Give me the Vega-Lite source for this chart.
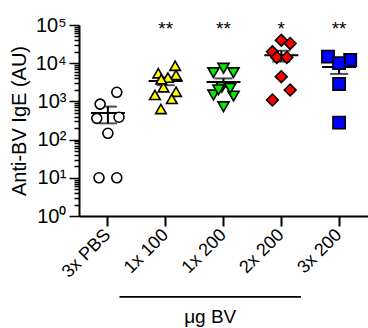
{
  "$schema": "https://vega.github.io/schema/vega-lite/v6.json",
  "width": 289,
  "height": 191,
  "autosize": {"type": "none"},
  "padding": {"left": 79, "top": 25, "right": 0, "bottom": 112},
  "config": {
    "view": {"stroke": null},
    "font": "Liberation Sans",
    "axis": {"labelFont": "Liberation Sans", "titleFont": "Liberation Sans", "labelColor": "black", "titleColor": "black", "domainColor": "black", "tickColor": "black"}
  },
  "datasets": {
    "pts": [
      {"group": "3x PBS", "value": 1730, "spread": 0.8},
      {"group": "3x PBS", "value": 850, "spread": -0.7},
      {"group": "3x PBS", "value": 360, "spread": -1.0},
      {"group": "3x PBS", "value": 385, "spread": 1.0},
      {"group": "3x PBS", "value": 146, "spread": 0},
      {"group": "3x PBS", "value": 10, "spread": -0.8},
      {"group": "3x PBS", "value": 10, "spread": 0.8},
      {"group": "1x 100", "value": 5450, "spread": -0.67},
      {"group": "1x 100", "value": 8550, "spread": 0.85},
      {"group": "1x 100", "value": 4900, "spread": 0.93},
      {"group": "1x 100", "value": 2340, "spread": -0.2},
      {"group": "1x 100", "value": 1475, "spread": -0.97},
      {"group": "1x 100", "value": 1790, "spread": 0.93},
      {"group": "1x 100", "value": 1160, "spread": 0.55},
      {"group": "1x 100", "value": 630, "spread": -0.43},
      {"group": "1x 100", "value": 4200, "spread": 0.2},
      {"group": "1x 100", "value": 3800, "spread": -0.4},
      {"group": "1x 200", "value": 5650, "spread": -0.9},
      {"group": "1x 200", "value": 7400, "spread": 0},
      {"group": "1x 200", "value": 5650, "spread": 0.9},
      {"group": "1x 200", "value": 2340, "spread": -0.15},
      {"group": "1x 200", "value": 1475, "spread": -0.9},
      {"group": "1x 200", "value": 1380, "spread": 0.9},
      {"group": "1x 200", "value": 725, "spread": 0},
      {"group": "1x 200", "value": 2000, "spread": -0.45},
      {"group": "1x 200", "value": 2200, "spread": 0.6},
      {"group": "2x 200", "value": 40000, "spread": 0},
      {"group": "2x 200", "value": 33000, "spread": 0.8},
      {"group": "2x 200", "value": 19900, "spread": -0.8},
      {"group": "2x 200", "value": 14200, "spread": -0.4},
      {"group": "2x 200", "value": 14200, "spread": 0.5},
      {"group": "2x 200", "value": 4450, "spread": 0},
      {"group": "2x 200", "value": 1990, "spread": 0.8},
      {"group": "2x 200", "value": 1090, "spread": -0.8},
      {"group": "3x 200", "value": 14800, "spread": -1.0},
      {"group": "3x 200", "value": 12100, "spread": 1.0},
      {"group": "3x 200", "value": 10000, "spread": 0},
      {"group": "3x 200", "value": 2860, "spread": 0},
      {"group": "3x 200", "value": 277, "spread": 0}
    ],
    "stars": [
      {"group": "1x 100", "sig": "**"},
      {"group": "1x 200", "sig": "**"},
      {"group": "2x 200", "sig": "*"},
      {"group": "3x 200", "sig": "**"}
    ],
    "bracket": [
      {"from": "3x PBS", "to": "2x 200", "label": "μg BV", "mid": "1x 200"}
    ]
  },
  "layer": [
    {
      "data": {"name": "pts"},
      "mark": {"type": "errorbar", "extent": "stderr", "color": "black", "thickness": 2, "ticks": {"size": 18, "thickness": 2, "color": "black"}},
      "encoding": {
        "x": {"field": "group", "type": "nominal",
          "scale": {"domain": ["3x PBS", "1x 100", "1x 200", "2x 200", "3x 200"], "paddingInner": 0, "paddingOuter": 0},
          "axis": {"title": null, "labelAngle": -45, "labelAlign": "right", "labelBaseline": "middle", "labelFontSize": 18, "labelPadding": 6, "tickSize": 10, "tickWidth": 2, "domainWidth": 2, "labelColor": "black"}},
        "y": {"field": "value", "type": "quantitative",
          "scale": {"type": "log", "domain": [1, 100000], "nice": false},
          "axis": {
            "title": "Anti-BV IgE (AU)", "titleFontSize": 20, "titleFontWeight": "normal", "titlePadding": 6,
            "values": [1,2,3,4,5,6,7,8,9,10,20,30,40,50,60,70,80,90,100,200,300,400,500,600,700,800,900,1000,2000,3000,4000,5000,6000,7000,8000,9000,10000,20000,30000,40000,50000,60000,70000,80000,90000,100000],
            "labelExpr": "abs(log(datum.value)/LN10 - round(log(datum.value)/LN10)) < 1e-6 ? '10' + ['⁰','¹','²','³','⁴','⁵'][round(log(datum.value)/LN10)] : ''",
            "labelFontSize": 20, "labelOverlap": false, "labelFlush": false, "labelPadding": 3,
            "tickSize": {"condition": {"test": "abs(log(datum.value)/LN10 - round(log(datum.value)/LN10)) < 1e-6", "value": 10}, "value": 5},
            "tickWidth": 1.5, "domainWidth": 2, "grid": false
          }}
      }
    },
    {
      "data": {"name": "pts"},
      "mark": {"type": "tick", "color": "black", "thickness": 2, "size": 34},
      "encoding": {
        "x": {"field": "group", "type": "nominal"},
        "y": {"aggregate": "mean", "field": "value", "type": "quantitative"}
      }
    },
    {
      "data": {"name": "pts"},
      "mark": {"type": "point", "filled": false, "opacity": 1, "stroke": "black", "strokeWidth": 1.6},
      "encoding": {
        "x": {"field": "group", "type": "nominal"},
        "xOffset": {"field": "spread", "type": "quantitative", "scale": {"domain": [-2.6, 2.6]}},
        "y": {"field": "value", "type": "quantitative"},
        "shape": {"field": "group", "type": "nominal", "legend": null,
          "scale": {"domain": ["3x PBS", "1x 100", "1x 200", "2x 200", "3x 200"], "range": ["circle", "triangle-up", "triangle-down", "diamond", "square"]}},
        "fill": {"field": "group", "type": "nominal", "legend": null,
          "scale": {"domain": ["3x PBS", "1x 100", "1x 200", "2x 200", "3x 200"], "range": ["#ffffff", "#ffff00", "#00ee00", "#ff0000", "#0000ff"]}},
        "size": {"field": "group", "type": "nominal", "legend": null,
          "scale": {"domain": ["3x PBS", "1x 100", "1x 200", "2x 200", "3x 200"], "range": [100, 150, 150, 135, 160]}}
      }
    },
    {
      "data": {"name": "stars"},
      "mark": {"type": "text", "fontSize": 19, "baseline": "middle", "dy": 4, "color": "black"},
      "encoding": {
        "x": {"field": "group", "type": "nominal"},
        "y": {"datum": 100000, "type": "quantitative"},
        "text": {"field": "sig"}
      }
    },
    {
      "data": {"name": "bracket"},
      "mark": {"type": "rule", "color": "black", "strokeWidth": 1.8},
      "encoding": {
        "x": {"field": "from", "type": "nominal", "bandPosition": 0.7},
        "x2": {"field": "to", "bandPosition": 0.84},
        "y": {"datum": 0.0076, "type": "quantitative"}
      }
    },
    {
      "data": {"name": "bracket"},
      "mark": {"type": "text", "fontSize": 19, "baseline": "middle", "color": "black"},
      "encoding": {
        "x": {"field": "mid", "type": "nominal", "bandPosition": 0.27},
        "y": {"datum": 0.0023, "type": "quantitative"},
        "text": {"field": "label"}
      }
    }
  ]
}
